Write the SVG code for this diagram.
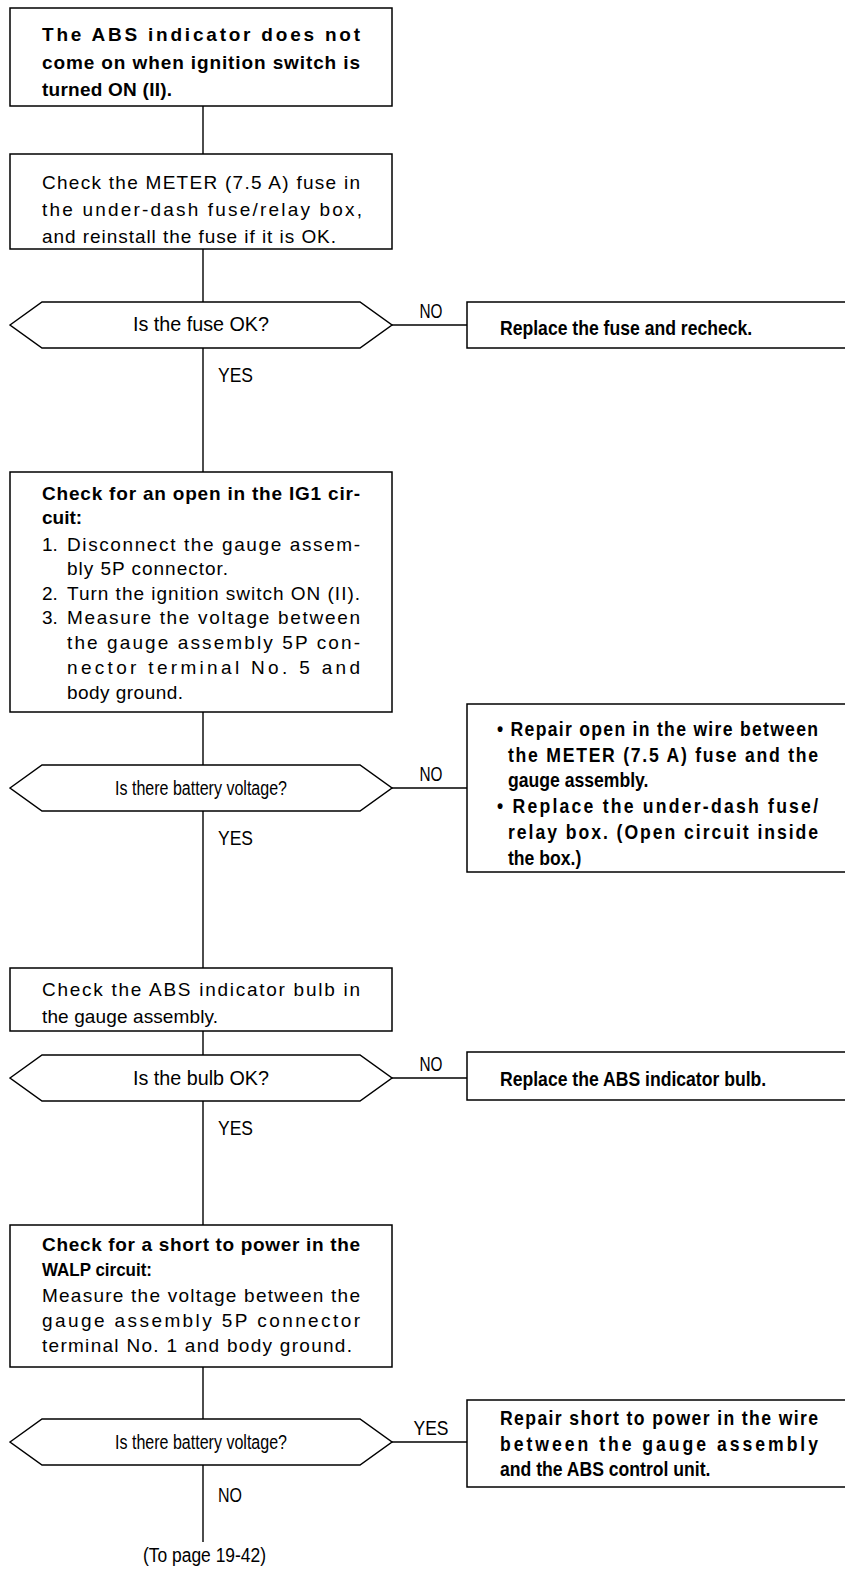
<svg xmlns="http://www.w3.org/2000/svg" width="845" height="1572" viewBox="0 0 845 1572">
<style>
.box{fill:#fff;stroke:#000;stroke-width:1.5}
.ln{stroke:#000;stroke-width:1.4;fill:none}
text{font-family:"Liberation Sans",Arial,sans-serif;font-size:19px;fill:#000}
.b{font-weight:bold}
.d{font-size:20px}
.r{font-size:20px;font-weight:bold}
</style>
<rect width="845" height="1572" fill="#fff"/>
<g id="connectors">
<line class="ln" x1="203" y1="106" x2="203" y2="154"/>
<line class="ln" x1="203" y1="249" x2="203" y2="302"/>
<line class="ln" x1="203" y1="348" x2="203" y2="472"/>
<line class="ln" x1="203" y1="712" x2="203" y2="765"/>
<line class="ln" x1="203" y1="811" x2="203" y2="968"/>
<line class="ln" x1="203" y1="1031" x2="203" y2="1055"/>
<line class="ln" x1="203" y1="1101" x2="203" y2="1225"/>
<line class="ln" x1="203" y1="1367" x2="203" y2="1419"/>
<line class="ln" x1="203" y1="1465" x2="203" y2="1542"/>
<line class="ln" x1="392" y1="325" x2="467" y2="325"/>
<line class="ln" x1="392" y1="788" x2="467" y2="788"/>
<line class="ln" x1="392" y1="1078" x2="467" y2="1078"/>
<line class="ln" x1="392" y1="1442" x2="467" y2="1442"/>
<text class="d" x="431" y="318" text-anchor="middle" textLength="23" lengthAdjust="spacingAndGlyphs">NO</text>
<text class="d" x="218" y="382" textLength="35" lengthAdjust="spacingAndGlyphs">YES</text>
<text class="d" x="431" y="781" text-anchor="middle" textLength="23" lengthAdjust="spacingAndGlyphs">NO</text>
<text class="d" x="218" y="845" textLength="35" lengthAdjust="spacingAndGlyphs">YES</text>
<text class="d" x="431" y="1071" text-anchor="middle" textLength="23" lengthAdjust="spacingAndGlyphs">NO</text>
<text class="d" x="218" y="1135" textLength="35" lengthAdjust="spacingAndGlyphs">YES</text>
<text class="d" x="431" y="1435" text-anchor="middle" textLength="35" lengthAdjust="spacingAndGlyphs">YES</text>
<text class="d" x="218" y="1502" textLength="24" lengthAdjust="spacingAndGlyphs">NO</text>
<text class="d" x="143" y="1562" textLength="123" lengthAdjust="spacingAndGlyphs">(To page 19-42)</text>
</g>
<g id="start">
<rect class="box" x="10" y="8" width="382" height="98"/>
<text class="b" x="42" y="41" textLength="318" lengthAdjust="spacing">The ABS indicator does not</text>
<text class="b" x="42" y="69" textLength="318" lengthAdjust="spacing">come on when ignition switch is</text>
<text class="b" x="42" y="96" textLength="130" lengthAdjust="spacing">turned ON (II).</text>
</g>
<g id="check-fuse">
<rect class="box" x="10" y="154" width="382" height="95"/>
<text x="42" y="189" textLength="318" lengthAdjust="spacing">Check the METER (7.5 A) fuse in</text>
<text x="42" y="216" textLength="320" lengthAdjust="spacing">the under-dash fuse/relay box,</text>
<text x="42" y="243" textLength="294" lengthAdjust="spacing">and reinstall the fuse if it is OK.</text>
</g>
<g id="q-fuse">
<polygon class="box" points="10,325 42,302 360,302 392,325 360,348 42,348"/>
<text class="d" x="201" y="331" text-anchor="middle" textLength="136" lengthAdjust="spacingAndGlyphs">Is the fuse OK?</text>
</g>
<g id="replace-fuse">
<rect class="box" x="467" y="302" width="390" height="46"/>
<g transform="matrix(0.88,0,0,1,60,0)">
<text class="r" x="500" y="335">Replace the fuse and recheck.</text>
</g>
</g>
<g id="check-ig1">
<rect class="box" x="10" y="472" width="382" height="240"/>
<text class="b" x="42" y="500" textLength="318" lengthAdjust="spacing">Check for an open in the IG1 cir-</text>
<text class="b" x="42" y="524">cuit:</text>
<text x="42" y="551">1.</text>
<text x="67" y="551" textLength="293" lengthAdjust="spacing">Disconnect the gauge assem-</text>
<text x="67" y="575" textLength="161" lengthAdjust="spacing">bly 5P connector.</text>
<text x="42" y="600">2.</text>
<text x="67" y="600" textLength="293" lengthAdjust="spacing">Turn the ignition switch ON (II).</text>
<text x="42" y="624">3.</text>
<text x="67" y="624" textLength="293" lengthAdjust="spacing">Measure the voltage between</text>
<text x="67" y="649" textLength="293" lengthAdjust="spacing">the gauge assembly 5P con-</text>
<text x="67" y="674" textLength="293" lengthAdjust="spacing">nector terminal No. 5 and</text>
<text x="67" y="699" textLength="116" lengthAdjust="spacing">body ground.</text>
</g>
<g id="q-voltage-1">
<polygon class="box" points="10,788 42,765 360,765 392,788 360,811 42,811"/>
<text class="d" x="201" y="795" text-anchor="middle" textLength="172" lengthAdjust="spacingAndGlyphs">Is there battery voltage?</text>
</g>
<g id="repair-open">
<rect class="box" x="467" y="704" width="390" height="168"/>
<g transform="matrix(0.88,0,0,1,60,0)">
<text class="r" x="496.6" y="736" textLength="364.8" lengthAdjust="spacing">• Repair open in the wire between</text>
<text class="r" x="509.1" y="762" textLength="352.3" lengthAdjust="spacing">the METER (7.5 A) fuse and the</text>
<text class="r" x="509.1" y="787">gauge assembly.</text>
<text class="r" x="496.6" y="813" textLength="364.8" lengthAdjust="spacing">• Replace the under-dash fuse/</text>
<text class="r" x="509.1" y="839" textLength="352.3" lengthAdjust="spacing">relay box. (Open circuit inside</text>
<text class="r" x="509.1" y="865">the box.)</text>
</g>
</g>
<g id="check-bulb">
<rect class="box" x="10" y="968" width="382" height="63"/>
<text x="42" y="996" textLength="318" lengthAdjust="spacing">Check the ABS indicator bulb in</text>
<text x="42" y="1023" textLength="176" lengthAdjust="spacing">the gauge assembly.</text>
</g>
<g id="q-bulb">
<polygon class="box" points="10,1078 42,1055 360,1055 392,1078 360,1101 42,1101"/>
<text class="d" x="201" y="1085" text-anchor="middle" textLength="136" lengthAdjust="spacingAndGlyphs">Is the bulb OK?</text>
</g>
<g id="replace-bulb">
<rect class="box" x="467" y="1052" width="390" height="48"/>
<g transform="matrix(0.88,0,0,1,60,0)">
<text class="r" x="500" y="1086">Replace the ABS indicator bulb.</text>
</g>
</g>
<g id="check-walp">
<rect class="box" x="10" y="1225" width="382" height="142"/>
<text class="b" x="42" y="1251" textLength="318" lengthAdjust="spacing">Check for a short to power in the</text>
<text class="b" x="42" y="1276" textLength="110" lengthAdjust="spacingAndGlyphs">WALP circuit:</text>
<text x="42" y="1302" textLength="318" lengthAdjust="spacing">Measure the voltage between the</text>
<text x="42" y="1327" textLength="318" lengthAdjust="spacing">gauge assembly 5P connector</text>
<text x="42" y="1352" textLength="310" lengthAdjust="spacing">terminal No. 1 and body ground.</text>
</g>
<g id="q-voltage-2">
<polygon class="box" points="10,1442 42,1419 360,1419 392,1442 360,1465 42,1465"/>
<text class="d" x="201" y="1449" text-anchor="middle" textLength="172" lengthAdjust="spacingAndGlyphs">Is there battery voltage?</text>
</g>
<g id="repair-short">
<rect class="box" x="467" y="1400" width="390" height="87"/>
<g transform="matrix(0.88,0,0,1,60,0)">
<text class="r" x="500" y="1425" textLength="361.4" lengthAdjust="spacing">Repair short to power in the wire</text>
<text class="r" x="500" y="1451" textLength="361.4" lengthAdjust="spacing">between the gauge assembly</text>
<text class="r" x="500" y="1476">and the ABS control unit.</text>
</g>
</g>
</svg>
